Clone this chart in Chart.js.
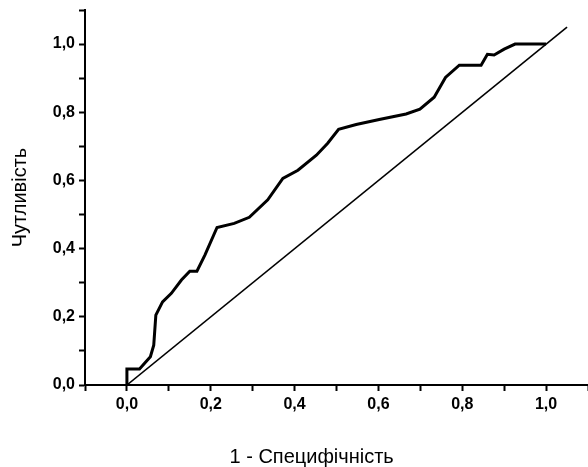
<!DOCTYPE html>
<html>
<head>
<meta charset="utf-8">
<script src="https://cdn.jsdelivr.net/npm/chart.js@4.4.1/dist/chart.umd.min.js"></script>
<style>
  html, body { margin: 0; padding: 0; background: #fff; }
  canvas { display: block; }
</style>
</head>
<body>
<canvas id="roc" width="588" height="467"></canvas>
<script>
// ROC curve points
var rocX = [0, 0, 0.03, 0.056, 0.064, 0.069, 0.085, 0.106, 0.13, 0.15, 0.167, 0.186, 0.215, 0.256, 0.292, 0.336, 0.372, 0.408, 0.452, 0.479, 0.505, 0.547, 0.602, 0.666, 0.699, 0.733, 0.76, 0.793, 0.845, 0.86, 0.876, 0.9, 0.926, 1.0];
var rocY = [0, 0.047, 0.047, 0.083, 0.117, 0.205, 0.244, 0.269, 0.308, 0.334, 0.334, 0.381, 0.462, 0.474, 0.492, 0.543, 0.606, 0.63, 0.674, 0.709, 0.75, 0.764, 0.779, 0.795, 0.809, 0.844, 0.902, 0.938, 0.938, 0.97, 0.968, 0.985, 1.0, 1.0];
// reference diagonal
var diagX = [0, 1.05];
var diagY = [0, 1.05];

var xTitle = "1 - Специфічність";
var yTitle = "Чутливість";

function toPoints(xs, ys) {
    return xs.map(function (x, i) { return { x: x, y: ys[i] }; });
}

function tickLabel(v) {
    var k = Math.round(v * 10);
    if (k < 0 || k > 10 || k % 2 !== 0) return "";
    return (k / 10).toFixed(1).replace(".", ",");
}

var tickFont = { family: "Liberation Sans", size: 16, weight: "bold" };
var titleFont = { family: "Liberation Sans", size: 20, lineHeight: 1 };

// x title sits a bit left of the axis centre in the original
var xTitlePlugin = {
    id: "xTitle",
    afterDraw: function (chart) {
        var c = chart.ctx;
        c.save();
        c.font = "20px 'Liberation Sans'";
        c.fillStyle = "#000";
        c.textAlign = "center";
        c.textBaseline = "middle";
        c.fillText(xTitle, chart.width * 0.53, chart.height - 10);
        c.restore();
    }
};

var ctx = document.getElementById("roc").getContext("2d");
new Chart(ctx, {
    type: "scatter",
    data: {
        datasets: [{
            data: toPoints(rocX, rocY),
            showLine: true,
            borderColor: "#000",
            borderWidth: 3,
            pointRadius: 0,
            tension: 0
        }, {
            data: toPoints(diagX, diagY),
            showLine: true,
            borderColor: "#000",
            borderWidth: 1.6,
            pointRadius: 0
        }]
    },
    plugins: [xTitlePlugin],
    options: {
        responsive: false,
        animation: false,
        layout: { padding: { top: 10, right: 0, left: 0, bottom: 0 } },
        plugins: {
            legend: { display: false },
            tooltip: { enabled: false }
        },
        scales: {
            x: {
                type: "linear",
                min: -0.1,
                max: 1.1,
                afterFit: function (s) {
                    s.height = 82;
                    s.paddingLeft = 0;
                    s.paddingRight = 0;
                },
                border: { display: true, color: "#000", width: 2 },
                grid: { drawOnChartArea: false, drawTicks: true, tickLength: 6, tickWidth: 2, tickColor: "#000" },
                ticks: {
                    stepSize: 0.1,
                    autoSkip: false,
                    maxRotation: 0,
                    padding: 4,
                    color: "#000",
                    font: tickFont,
                    callback: tickLabel
                }
            },
            y: {
                type: "linear",
                min: 0,
                max: 1.1,
                afterFit: function (s) {
                    s.width = 85;
                    s.paddingTop = 0;
                    s.paddingBottom = 0;
                },
                border: { display: true, color: "#000", width: 2 },
                grid: { drawOnChartArea: false, drawTicks: true, tickLength: 6, tickWidth: 2, tickColor: "#000" },
                ticks: {
                    stepSize: 0.1,
                    autoSkip: false,
                    padding: 4,
                    color: "#000",
                    font: tickFont,
                    callback: tickLabel
                },
                title: {
                    display: true,
                    text: yTitle,
                    color: "#000",
                    font: titleFont,
                    padding: { top: 10, bottom: 0 }
                }
            }
        }
    }
});
</script>
</body>
</html>
